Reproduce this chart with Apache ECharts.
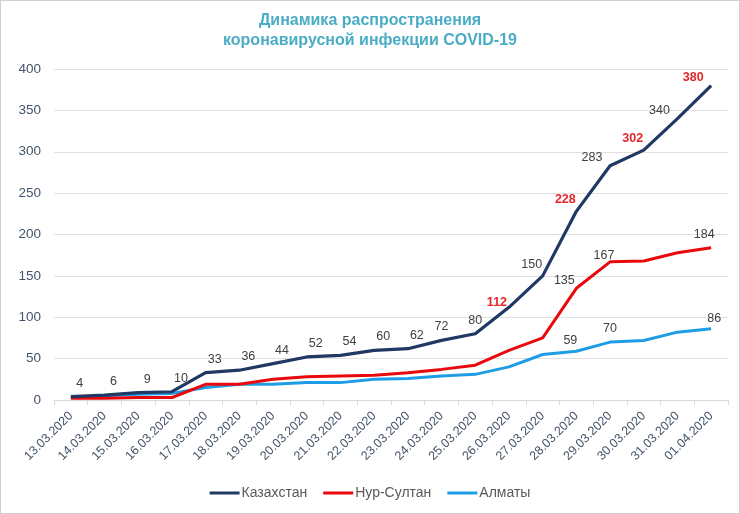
<!DOCTYPE html>
<html lang="ru">
<head>
    <meta charset="UTF-8">
    <title>COVID-19</title>
    <script src="https://cdn.jsdelivr.net/npm/echarts@6/dist/echarts.min.js"></script>
    <style>
        html, body { margin: 0; padding: 0; background: #fff; }
        #graph { width: 738px; height: 512px; border: 1px solid #d0d0d0; }
    </style>
</head>
<body>
    <div id="graph"></div>

    <script>
        var dates = ['13.03.2020', '14.03.2020', '15.03.2020', '16.03.2020', '17.03.2020',
            '18.03.2020', '19.03.2020', '20.03.2020', '21.03.2020', '22.03.2020',
            '23.03.2020', '24.03.2020', '25.03.2020', '26.03.2020', '27.03.2020',
            '28.03.2020', '29.03.2020', '30.03.2020', '31.03.2020', '01.04.2020'];
        var kazakhstan = [4, 6, 9, 10, 33, 36, 44, 52, 54, 60, 62, 72, 80, 112, 150, 228, 283, 302, 340, 380];
        var nurSultan = [2, 2, 3, 3, 19, 19, 25, 28, 29, 30, 33, 37, 42, 60, 75, 135, 167, 168, 178, 184];
        var almaty = [3, 5, 7, 8, 15, 19, 19, 21, 21, 25, 26, 29, 31, 40, 55, 59, 70, 72, 82, 86];
        var yTicks = [0, 50, 100, 150, 200, 250, 300, 350, 400];

        // which points get a label, and which of the Kazakhstan ones are red
        var redIdx = [13, 15, 17, 19];
        var cityLabelIdx = [15, 16, 19];

        // nudge the Kazakhstan labels the way the original sits them
        function kazOffset(i) {
            if (i <= 10) return [9, 0];
            if (i <= 12) return [0, 0];
            if (i === 13) return [-12, 9];
            if (i === 16 || i === 18 || i === 19) return [-18, 5];
            return [-11, 2];
        }

        function kazData() {
            var out = [];
            for (var i = 0; i < kazakhstan.length; i++) {
                var red = redIdx.indexOf(i) >= 0;
                out.push({
                    value: kazakhstan[i],
                    label: {
                        show: true, position: 'top', distance: 7, offset: kazOffset(i),
                        color: red ? '#e3262a' : '#404040',
                        fontWeight: red ? 'bold' : 'normal'
                    }
                });
            }
            return out;
        }

        function cityData(values, offsets) {
            var out = [];
            for (var i = 0; i < values.length; i++) {
                var k = cityLabelIdx.indexOf(i);
                var item = { value: values[i] };
                if (k >= 0) {
                    item.label = { show: true, position: 'top', distance: 7, offset: offsets[k], color: '#404040' };
                }
                out.push(item);
            }
            return out;
        }

        var myChart = echarts.init(document.getElementById('graph'));
        var option = {
            animation: false,
            title: {
                text: 'Динамика распространения\nкоронавирусной инфекции COVID-19',
                left: 'center',
                top: 5,
                textStyle: {
                    color: '#4bacc6', fontSize: 16, fontWeight: 'bold',
                    fontFamily: 'Liberation Sans, Arial', lineHeight: 20
                }
            },
            legend: {
                bottom: 8,
                left: 'center',
                itemWidth: 30,
                itemHeight: 3,
                itemGap: 16,
                icon: 'rect',
                textStyle: { color: '#595959', fontSize: 14, fontFamily: 'Liberation Sans, Arial', padding: [0, 0, 0, -3] },
                data: ['Казахстан', 'Нур-Султан', 'Алматы']
            },
            grid: { left: 53, right: 11, top: 68, bottom: 113 },
            xAxis: {
                type: 'category',
                data: dates,
                axisLine: { lineStyle: { color: '#d9d9d9' } },
                axisTick: { show: true, length: 5, lineStyle: { color: '#d9d9d9' } },
                axisLabel: {
                    rotate: 45, interval: 0, color: '#44546a', fontSize: 12.5,
                    fontFamily: 'Liberation Sans, Arial', margin: 14
                }
            },
            yAxis: {
                type: 'value',
                min: yTicks[0],
                max: yTicks[yTicks.length - 1],
                interval: 50,
                axisLine: { show: false },
                axisTick: { show: false },
                splitLine: { lineStyle: { color: '#e0e0e0' } },
                axisLabel: { color: '#44546a', fontSize: 13.5, fontFamily: 'Liberation Sans, Arial', margin: 13 }
            },
            textStyle: { fontFamily: 'Liberation Sans, Arial' },
            series: [
                {
                    name: 'Казахстан', type: 'line', data: kazData(),
                    showSymbol: true, symbol: 'circle', symbolSize: 0,
                    lineStyle: { color: '#203864', width: 3.2 }, itemStyle: { color: '#203864' },
                    label: { fontSize: 12.5 }, z: 4
                },
                {
                    name: 'Нур-Султан', type: 'line',
                    data: cityData(nurSultan, [[-12, 6], [-6, 7], [-7, 0]]),
                    showSymbol: true, symbol: 'circle', symbolSize: 0,
                    lineStyle: { color: '#e8090c', width: 3 }, itemStyle: { color: '#e8090c' },
                    label: { fontSize: 12.5 }, z: 3
                },
                {
                    name: 'Алматы', type: 'line',
                    data: cityData(almaty, [[-6, 3], [0, 0], [3, 3]]),
                    showSymbol: true, symbol: 'circle', symbolSize: 0,
                    lineStyle: { color: '#1e9de6', width: 3 }, itemStyle: { color: '#1e9de6' },
                    label: { fontSize: 12.5 }, z: 2
                }
            ]
        };
        myChart.setOption(option);
    </script>
</body>
</html>
